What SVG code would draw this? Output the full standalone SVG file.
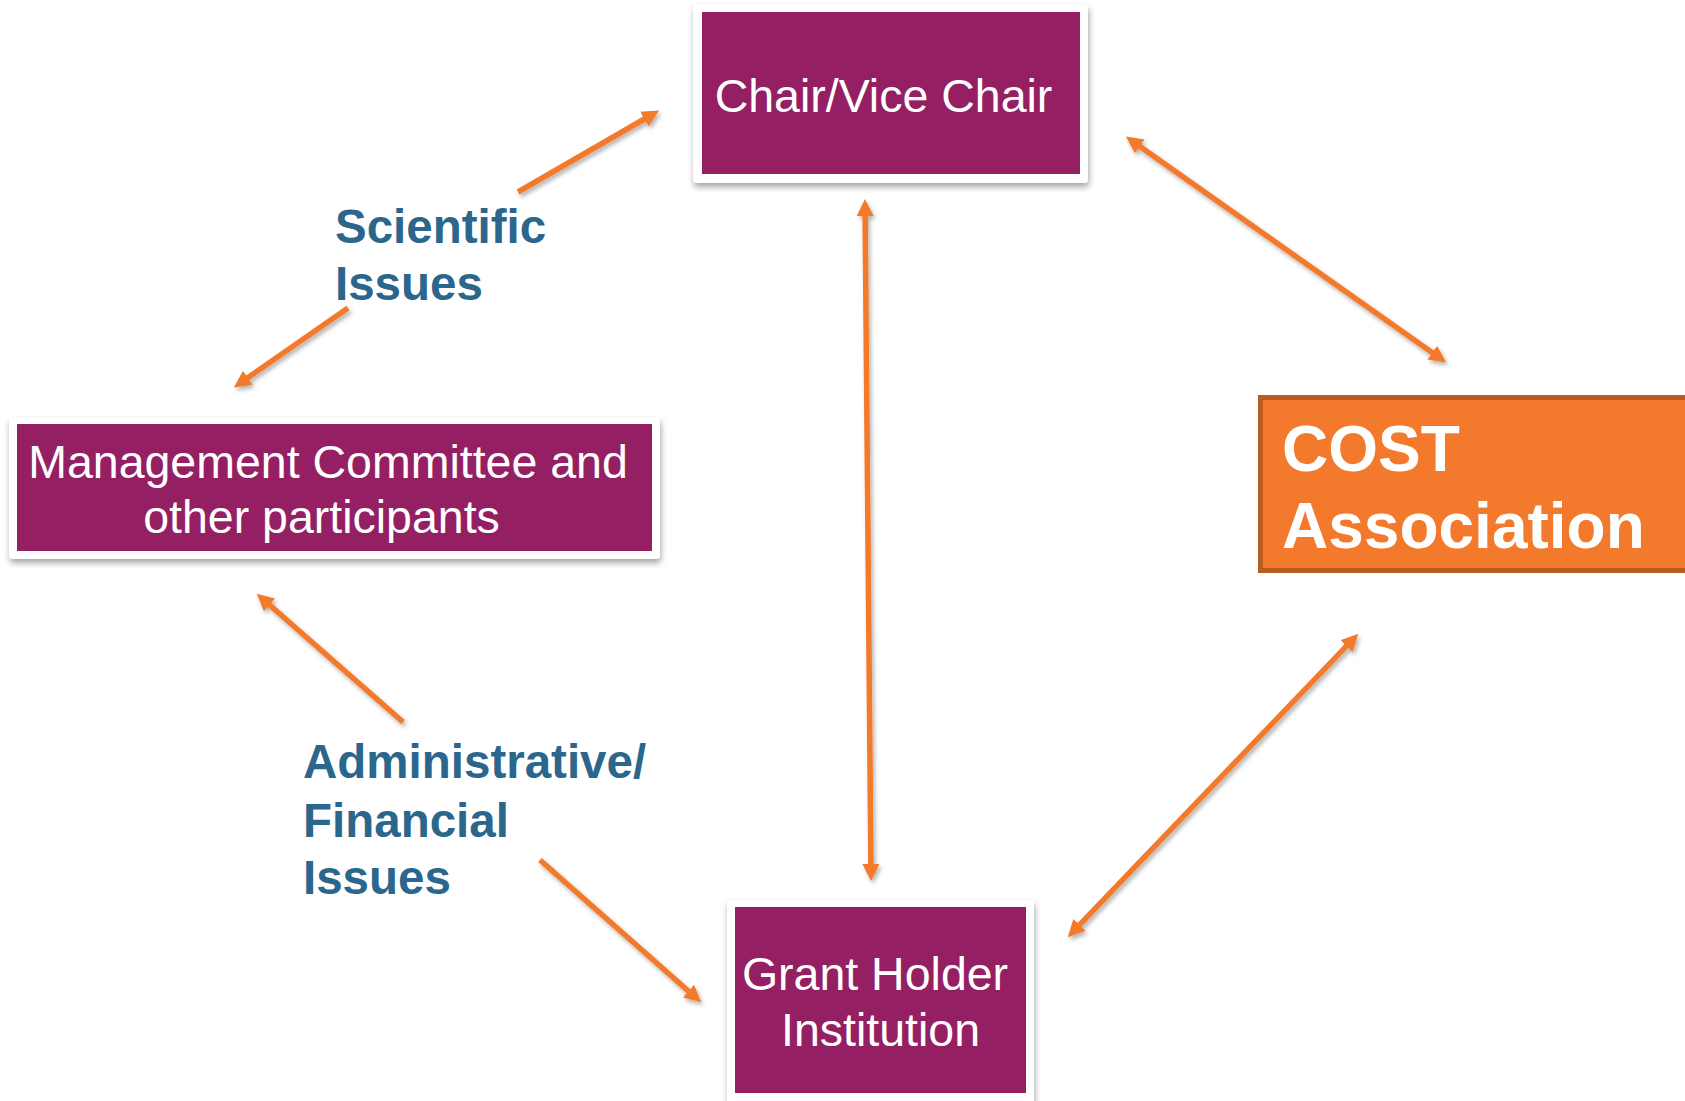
<svg xmlns="http://www.w3.org/2000/svg" width="1685" height="1101" viewBox="0 0 1685 1101">
  <defs>
    <style>
      .frame { fill: #ffffff; filter: url(#boxShadow); }
      .body { fill: #951F63; }
      .boxText { font-family: "Liberation Sans", Arial, sans-serif; font-size: 46.5px; fill: #ffffff; text-anchor: middle; }
      .costText { font-family: "Liberation Sans", Arial, sans-serif; font-size: 64px; font-weight: bold; fill: #ffffff; }
      .label { font-family: "Liberation Sans", Arial, sans-serif; font-size: 47.5px; font-weight: bold; fill: #2B668C; }
      .link { stroke: #F37A2A; stroke-width: 5.5; fill: none; marker-end: url(#head); }
      .both { marker-start: url(#head); }
    </style>
    <filter id="boxShadow" x="-10%" y="-10%" width="120%" height="130%">
      <feDropShadow dx="1" dy="4" stdDeviation="3" flood-color="#000000" flood-opacity="0.35"/>
    </filter>
    <filter id="lineShadow" x="-10%" y="-10%" width="120%" height="120%">
      <feDropShadow dx="2" dy="3" stdDeviation="2" flood-color="#000000" flood-opacity="0.3"/>
    </filter>
    <!-- arrowhead anchored at its base; lines end where the head begins -->
    <marker id="head" markerUnits="userSpaceOnUse" markerWidth="19" markerHeight="18" refX="1" refY="8.5" orient="auto-start-reverse" viewBox="0 0 19 17">
      <path d="M0,0 L17,8.5 L0,17 Z" fill="#F37A2A"/>
    </marker>
  </defs>

  <rect width="1685" height="1101" fill="#ffffff"/>

  <!-- connectors -->
  <g id="connectors" filter="url(#lineShadow)">
    <line class="link" x1="518" y1="192" x2="645.3" y2="118.5"/>
    <line class="link" x1="348" y1="308" x2="247" y2="378.3"/>
    <line class="link both" x1="1138.9" y1="145.8" x2="1433.1" y2="353.2"/>
    <line class="link both" x1="865.1" y1="215" x2="870.9" y2="865"/>
    <line class="link" x1="403" y1="722" x2="268.8" y2="604.2"/>
    <line class="link" x1="540" y1="860" x2="689.2" y2="991.7"/>
    <line class="link both" x1="1347.2" y1="645.3" x2="1078.8" y2="925.7"/>
  </g>

  <!-- Chair / Vice Chair -->
  <g id="chair">
    <rect class="frame" x="693" y="4" width="395" height="179" rx="4"/>
    <rect class="body" x="702" y="12" width="378" height="162"/>
    <text class="boxText" x="883.5" y="112">Chair/Vice Chair</text>
  </g>

  <!-- Management Committee -->
  <g id="management">
    <rect class="frame" x="9" y="417" width="651" height="142" rx="4"/>
    <rect class="body" x="17" y="424" width="635" height="127"/>
    <text class="boxText" x="328" y="478">Management Committee and</text>
    <text class="boxText" x="321.5" y="533">other participants</text>
  </g>

  <!-- COST Association -->
  <g id="cost">
    <rect x="1260.5" y="397.5" width="440" height="173" fill="#F37A2C" stroke="#B95C1F" stroke-width="5"/>
    <text class="costText" x="1282" y="471">COST</text>
    <text class="costText" x="1282" y="548">Association</text>
  </g>

  <!-- Grant Holder Institution -->
  <g id="grant">
    <rect class="frame" x="727" y="900" width="307" height="210" rx="4"/>
    <rect class="body" x="735" y="907" width="291" height="186"/>
    <text class="boxText" x="875" y="990">Grant Holder</text>
    <text class="boxText" x="880.5" y="1046">Institution</text>
  </g>

  <!-- Edge labels -->
  <g id="scientific-label">
    <text class="label" x="335" y="243">Scientific</text>
    <text class="label" x="335" y="300">Issues</text>
  </g>
  <g id="admin-label">
    <text class="label" x="303" y="778">Administrative/</text>
    <text class="label" x="303" y="837">Financial</text>
    <text class="label" x="303" y="894">Issues</text>
  </g>
</svg>
